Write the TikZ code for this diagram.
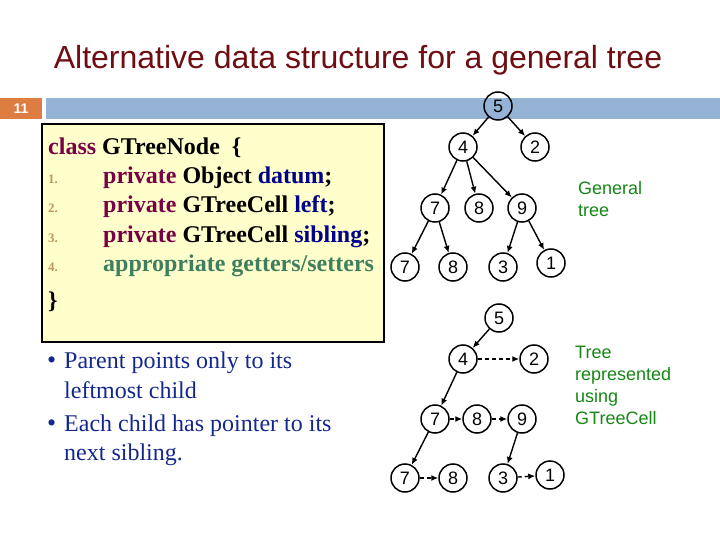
\documentclass[tikz,border=0pt]{standalone}
\usepackage{fontspec}
\setmainfont{Liberation Serif}
\setsansfont{Liberation Sans}
\usetikzlibrary{arrows.meta}

\definecolor{titlered}{RGB}{110,14,18}
\definecolor{barblue}{RGB}{149,179,213}
\definecolor{barorange}{RGB}{222,125,66}
\definecolor{codeyellow}{RGB}{255,255,204}
\definecolor{keyword}{RGB}{120,0,70}
\definecolor{field}{RGB}{0,0,140}
\definecolor{comment}{RGB}{63,127,95}
\definecolor{linenum}{RGB}{190,150,95}
\definecolor{bulletblue}{RGB}{20,40,140}
\definecolor{notegreen}{RGB}{20,135,20}

\begin{document}
\begin{tikzpicture}[x=1pt, y=-1pt,
	codeline/.style={anchor=base west, inner sep=0pt, font=\fontsize{24}{24}\selectfont\bfseries},
	linenr/.style={anchor=base west, inner sep=0pt, font=\fontsize{13}{13}\selectfont\bfseries, text=linenum},
	bulletline/.style={anchor=base west, inner sep=0pt, font=\fontsize{24}{24}\selectfont, text=bulletblue},
	note/.style={anchor=base west, inner sep=0pt, align=left, text=notegreen, font=\sffamily\fontsize{18}{22}\selectfont}]
	\useasboundingbox (0,0) rectangle (720,540);
	% header
	\node[anchor=base, font=\sffamily\fontsize{32}{32}\selectfont, text=titlered] (title) at (358,69) {Alternative data structure for a general tree};
	\fill[barorange] (0,98) rectangle (42,119);
	\fill[barblue] (46,98) rectangle (720,119);
	\node[text=white, font=\sffamily\bfseries\fontsize{14}{14}\selectfont] (page) at (21,109) {11};
	% code box
	\draw[fill=codeyellow, line width=1.2pt] (42,124) rectangle (384,342);
	\node[codeline] (class line) at (48,155) {\textcolor{keyword}{class} GTreeNode\ \ \{};
		\node[linenr] (nr 1) at (48,184) {1.};
		\node[codeline] (datum line) at (103,184) {\textcolor{keyword}{private} Object \textcolor{field}{datum};};
		\node[linenr] (nr 2) at (48,213) {2.};
		\node[codeline] (left line) at (103,213) {\textcolor{keyword}{private} GTreeCell \textcolor{field}{left};};
		\node[linenr] (nr 3) at (48,242) {3.};
		\node[codeline] (sibling line) at (103,242) {\textcolor{keyword}{private} GTreeCell \textcolor{field}{sibling};};
		\node[linenr] (nr 4) at (48,271) {4.};
		\node[codeline, text=comment] (getter line) at (103,271) {appropriate getters/setters};
	\node[codeline] (close line) at (48,308) {\}};
	% bullets
	\node[bulletline, font=\fontsize{26}{26}\selectfont] (dot 1) at (47,368) {\textbullet};
	\node[bulletline] (parent text) at (64,368) {Parent points only to its};
	\node[bulletline] (parent text 2) at (64,398) {leftmost child};
	\node[bulletline, font=\fontsize{26}{26}\selectfont] (dot 2) at (47,431) {\textbullet};
	\node[bulletline] (sibling text) at (64,431) {Each child has pointer to its};
	\node[bulletline] (sibling text 2) at (64,460) {next sibling.};
	% notes
	\node[note] (General note) at (578,217) {General\\tree};
	\node[note] (Cell note) at (575,424) {Tree\\represented\\using\\GTreeCell};
	\begin{scope}[every node/.style={circle, draw, line width=1.5pt, minimum size=28pt, inner sep=0pt, font=\sffamily\fontsize{18}{18}\selectfont}]
		\node (General root) at (498,106) {5};
			\node (General 4) at (463,147) {4};
			\node (General 2) at (535,147) {2};
				\node (General 7) at (435,208) {7};
				\node (General 8) at (479,208) {8};
				\node (General 9) at (522,208) {9};
					\node (General 7 leaf) at (405,267) {7};
					\node (General 8 leaf) at (453,267) {8};
					\node (General 3) at (503,267) {3};
					\node (General 1) at (551,263) {1};
		\node (Cell root) at (499,318) {5};
			\node (Cell 4) at (463,359) {4};
			\node (Cell 2) at (534,359) {2};
				\node (Cell 7) at (435,419) {7};
				\node (Cell 8) at (477,419) {8};
				\node (Cell 9) at (522,419) {9};
					\node (Cell 7 leaf) at (405,478) {7};
					\node (Cell 8 leaf) at (453,478) {8};
					\node (Cell 3) at (503,478) {3};
					\node (Cell 1) at (550,475) {1};
	\end{scope}
	\begin{scope}[>={Latex[length=7pt,width=6pt]}, line width=1.4pt]
	\path [->] (General root) edge (General 4);
	\path [->] (General root) edge (General 2);
	\path [->] (General 4) edge (General 7);
	\path [->] (General 4) edge (General 8);
	\path [->] (General 4) edge (General 9);
	\path [->] (General 7) edge (General 7 leaf);
	\path [->] (General 7) edge (General 8 leaf);
	\path [->] (General 9) edge (General 3);
	\path [->] (General 9) edge (General 1);

	\path [->] (Cell root) edge (Cell 4);
	\path [->] (Cell 4) edge (Cell 7);
	\path [->] (Cell 7) edge (Cell 7 leaf);
	\path [->] (Cell 9) edge (Cell 3);
	\path [->, dash pattern=on 4pt off 3pt] (Cell 4) edge (Cell 2);
	\path [->, dash pattern=on 4pt off 3pt] (Cell 7) edge (Cell 8);
	\path [->, dash pattern=on 4pt off 3pt] (Cell 8) edge (Cell 9);
	\path [->, dash pattern=on 4pt off 3pt] (Cell 7 leaf) edge (Cell 8 leaf);
	\path [->, dash pattern=on 4pt off 3pt] (Cell 3) edge (Cell 1);
	\end{scope}
\end{tikzpicture}
\end{document}
